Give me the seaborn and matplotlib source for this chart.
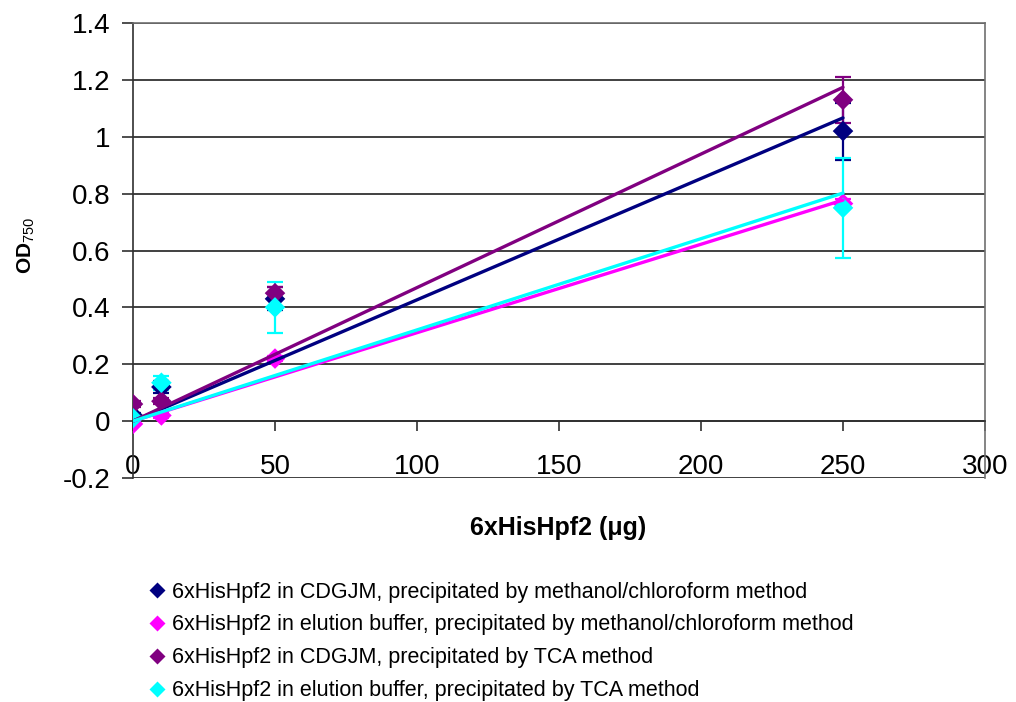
import numpy as np
import pandas as pd
import seaborn as sns
import matplotlib.pyplot as plt

# protein amount (ug) and OD750 readings
amount = [0, 10, 50, 250]
series = ['6xHisHpf2 in CDGJM, precipitated by methanol/chloroform method',
          '6xHisHpf2 in elution buffer, precipitated by methanol/chloroform method',
          '6xHisHpf2 in CDGJM, precipitated by TCA method',
          '6xHisHpf2 in elution buffer, precipitated by TCA method']
cdgjm_meoh = [0.02, 0.12, 0.43, 1.02]
cdgjm_meoh_err = [0.01, 0.02, 0.04, 0.10]
elu_meoh = [-0.01, 0.02, 0.22, 0.765]
elu_meoh_err = [0.005, 0.01, 0.01, 0.015]
cdgjm_tca = [0.06, 0.07, 0.45, 1.13]
cdgjm_tca_err = [0.01, 0.01, 0.02, 0.08]
elu_tca = [0.01, 0.135, 0.40, 0.75]
elu_tca_err = [0.01, 0.025, 0.09, 0.175]
colors = ['#000080', '#FF00FF', '#800080', '#00FFFF']

values = [cdgjm_meoh, elu_meoh, cdgjm_tca, elu_tca]
errors = [cdgjm_meoh_err, elu_meoh_err, cdgjm_tca_err, elu_tca_err]

df = pd.DataFrame({
    'amount': amount * 4,
    'od': sum(values, []),
    'err': sum(errors, []),
    'series': [s for s in series for _ in amount],
})

sns.set_style('white')
plt.rcParams['font.family'] = ['Liberation Sans', 'DejaVu Sans']
plt.rcParams['mathtext.fontset'] = 'custom'
plt.rcParams['mathtext.rm'] = 'Liberation Sans'
plt.rcParams['text.color'] = 'black'
plt.rcParams['xtick.color'] = 'black'
plt.rcParams['ytick.color'] = 'black'

fig = plt.figure(figsize=(10.16, 7.02), dpi=100)
ax = fig.add_axes([0.1309, 0.3191, 0.8386, 0.6481])

for s, c in zip(series, colors):
    d = df[df.series == s]
    ax.errorbar(d.amount, d.od, yerr=d.err, fmt='none', ecolor=c, elinewidth=1.6,
                capsize=6, capthick=1.6, zorder=4)

sns.scatterplot(data=df, x='amount', y='od', hue='series', palette=colors, marker='D',
                s=110, edgecolor='none', ax=ax, zorder=5)

# linear trendlines forced through the origin (Excel style)
xs = np.array(amount, dtype=float)
for s, v, c in zip(series, values, colors):
    slope = np.sum(xs * np.array(v)) / np.sum(xs ** 2)
    line = pd.DataFrame({'x': [0, 250], 'y': [0, slope * 250]})
    sns.lineplot(data=line, x='x', y='y', color=c, lw=2.4, ax=ax, legend=False, zorder=6)

ax.set_xlim(0, 300)
ax.set_ylim(-0.2, 1.4)
ax.set_xticks([0, 50, 100, 150, 200, 250, 300])
ax.set_yticks(np.arange(-0.2, 1.41, 0.2))
ax.set_yticklabels(['-0.2', '0', '0.2', '0.4', '0.6', '0.8', '1', '1.2', '1.4'])
ax.yaxis.grid(True, color='#202020', lw=1.2)
ax.set_axisbelow(True)

ax.spines['bottom'].set_position(('data', 0))
for sp in ['bottom', 'left']:
    ax.spines[sp].set_color('#303030')
    ax.spines[sp].set_linewidth(1.2)
for sp in ['top', 'right']:
    ax.spines[sp].set_color('#707070')
    ax.spines[sp].set_linewidth(1.2)

ax.tick_params(axis='x', direction='out', length=7, width=1.2, color='#303030',
               pad=17, labelsize=20, bottom=True, labelcolor='black')
ax.tick_params(axis='y', direction='out', length=8, width=1.2, color='#303030',
               pad=8, labelsize=20, left=True, labelcolor='black')

ax.set_xlabel('')
ax.set_ylabel('')
fig.text(0.549, 0.248, '6xHisHpf2 (\u03bcg)', ha='center', va='center',
         fontsize=18, fontweight='bold', color='black')
fig.text(0.026, 0.651, 'OD$_{750}$', ha='center', va='center', rotation=90,
         fontsize=15, fontweight='bold', color='black')

handles, labels = ax.get_legend_handles_labels()
leg = ax.legend(handles, labels, loc='upper left', bbox_to_anchor=(0.1355, 0.1838),
                bbox_transform=fig.transFigure, frameon=False, fontsize=15.5,
                handlelength=1.0, handletextpad=0.2, labelspacing=0.55, borderaxespad=0,
                markerscale=0.8)
for t in leg.get_texts():
    t.set_color('black')

fig.savefig('out.png', dpi=100)
